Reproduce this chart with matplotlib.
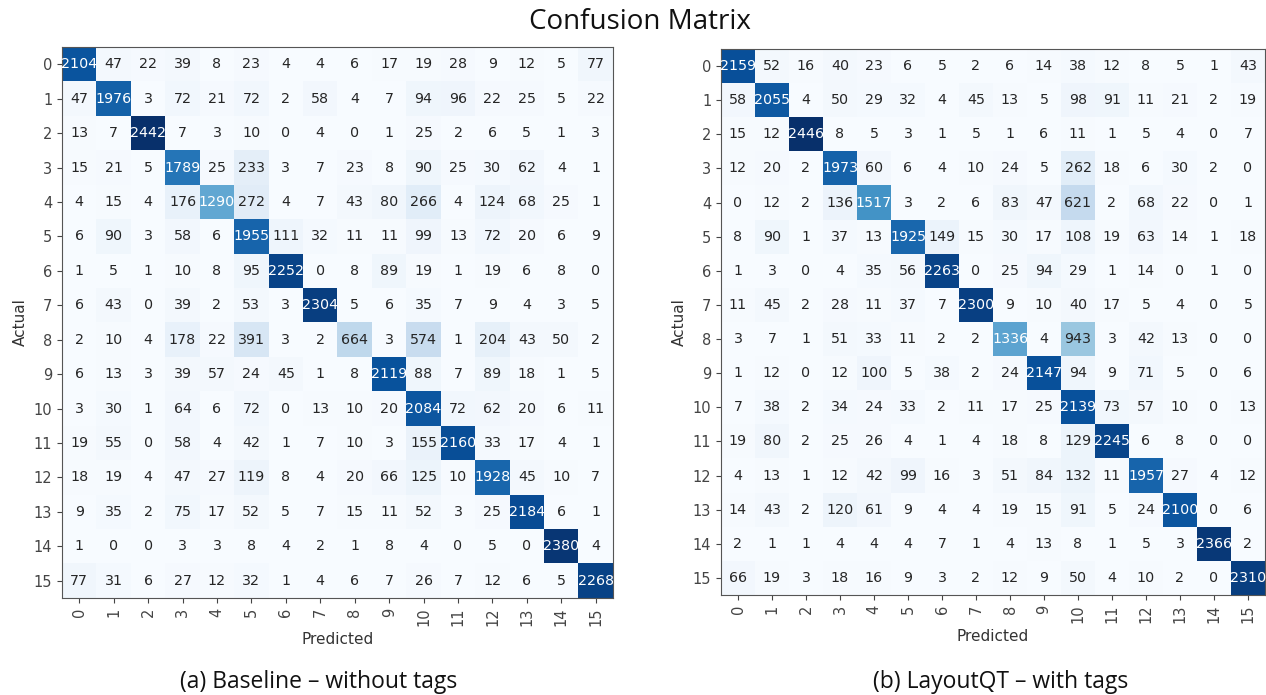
import numpy as np
import matplotlib.pyplot as plt

plt.rcParams['font.family'] = ['DejaVu Sans']

# ----------------------------
# 数据
# ----------------------------
labels = [str(i) for i in range(16)]

baseline = [
    [2104, 47, 22, 39, 8, 23, 4, 4, 6, 17, 19, 28, 9, 12, 5, 77],
    [47, 1976, 3, 72, 21, 72, 2, 58, 4, 7, 94, 96, 22, 25, 5, 22],
    [13, 7, 2442, 7, 3, 10, 0, 4, 0, 1, 25, 2, 6, 5, 1, 3],
    [15, 21, 5, 1789, 25, 233, 3, 7, 23, 8, 90, 25, 30, 62, 4, 1],
    [4, 15, 4, 176, 1290, 272, 4, 7, 43, 80, 266, 4, 124, 68, 25, 1],
    [6, 90, 3, 58, 6, 1955, 111, 32, 11, 11, 99, 13, 72, 20, 6, 9],
    [1, 5, 1, 10, 8, 95, 2252, 0, 8, 89, 19, 1, 19, 6, 8, 0],
    [6, 43, 0, 39, 2, 53, 3, 2304, 5, 6, 35, 7, 9, 4, 3, 5],
    [2, 10, 4, 178, 22, 391, 3, 2, 664, 3, 574, 1, 204, 43, 50, 2],
    [6, 13, 3, 39, 57, 24, 45, 1, 8, 2119, 88, 7, 89, 18, 1, 5],
    [3, 30, 1, 64, 6, 72, 0, 13, 10, 20, 2084, 72, 62, 20, 6, 11],
    [19, 55, 0, 58, 4, 42, 1, 7, 10, 3, 155, 2160, 33, 17, 4, 1],
    [18, 19, 4, 47, 27, 119, 8, 4, 20, 66, 125, 10, 1928, 45, 10, 7],
    [9, 35, 2, 75, 17, 52, 5, 7, 15, 11, 52, 3, 25, 2184, 6, 1],
    [1, 0, 0, 3, 3, 8, 4, 2, 1, 8, 4, 0, 5, 0, 2380, 4],
    [77, 31, 6, 27, 12, 32, 1, 4, 6, 7, 26, 7, 12, 6, 5, 2268],
]

layoutqt = [
    [2159, 52, 16, 40, 23, 6, 5, 2, 6, 14, 38, 12, 8, 5, 1, 43],
    [58, 2055, 4, 50, 29, 32, 4, 45, 13, 5, 98, 91, 11, 21, 2, 19],
    [15, 12, 2446, 8, 5, 3, 1, 5, 1, 6, 11, 1, 5, 4, 0, 7],
    [12, 20, 2, 1973, 60, 6, 4, 10, 24, 5, 262, 18, 6, 30, 2, 0],
    [0, 12, 2, 136, 1517, 3, 2, 6, 83, 47, 621, 2, 68, 22, 0, 1],
    [8, 90, 1, 37, 13, 1925, 149, 15, 30, 17, 108, 19, 63, 14, 1, 18],
    [1, 3, 0, 4, 35, 56, 2263, 0, 25, 94, 29, 1, 14, 0, 1, 0],
    [11, 45, 2, 28, 11, 37, 7, 2300, 9, 10, 40, 17, 5, 4, 0, 5],
    [3, 7, 1, 51, 33, 11, 2, 2, 1336, 4, 943, 3, 42, 13, 0, 0],
    [1, 12, 0, 12, 100, 5, 38, 2, 24, 2147, 94, 9, 71, 5, 0, 6],
    [7, 38, 2, 34, 24, 33, 2, 11, 17, 25, 2139, 73, 57, 10, 0, 13],
    [19, 80, 2, 25, 26, 4, 1, 4, 18, 8, 129, 2245, 6, 8, 0, 0],
    [4, 13, 1, 12, 42, 99, 16, 3, 51, 84, 132, 11, 1957, 27, 4, 12],
    [14, 43, 2, 120, 61, 9, 4, 4, 19, 15, 91, 5, 24, 2100, 0, 6],
    [2, 1, 1, 4, 4, 4, 7, 1, 4, 13, 8, 1, 5, 3, 2366, 2],
    [66, 19, 3, 18, 16, 9, 3, 2, 12, 9, 50, 4, 10, 2, 0, 2310],
]

captions = ["(a) Baseline \u2013 without tags", "(b) LayoutQT \u2013 with tags"]

W, H = 1266, 695
fig = plt.figure(figsize=(W / 100, H / 100), dpi=100)

# 两个子图的像素位置 (left, top, right, bottom)
boxes = [(62, 47, 613, 598), (721, 49, 1265, 595)]


def draw_cm(ax, cm):
    cm = np.array(cm)
    ax.imshow(cm, cmap="Blues", aspect="auto", vmin=0, vmax=cm.max())
    thresh = cm.max() / 2
    for i in range(cm.shape[0]):
        for j in range(cm.shape[1]):
            color = "white" if cm[i, j] > thresh else "#262626"
            ax.text(j, i, str(cm[i, j]), ha="center", va="center",
                    fontsize=10.3, color=color)
    ax.set_xticks(range(len(labels)))
    ax.set_yticks(range(len(labels)))
    ax.set_xticklabels(labels, rotation=90, fontsize=10.5, color="#222222")
    ax.set_yticklabels(labels, fontsize=10.5, color="#222222")
    ax.set_xlabel("Predicted", fontsize=11, color="#333333")
    ax.set_ylabel("Actual", fontsize=11, color="#333333")
    for s in ax.spines.values():
        s.set_color("#555555")
    ax.tick_params(colors="#444444")


for (l, t, r, b), cm in zip(boxes, [baseline, layoutqt]):
    ax = fig.add_axes([l / W, 1 - b / H, (r - l) / W, (b - t) / H])
    draw_cm(ax, cm)

fig.text(640 / W, 1 - 22 / H, "Confusion Matrix", ha="center", va="center",
         fontsize=20, family="Open Sans", color="#111111")
fig.text(180 / W, 1 - 682 / H, captions[0], ha="left", va="center",
         fontsize=16.5, family="Open Sans", color="#111111")
fig.text(873 / W, 1 - 682 / H, captions[1], ha="left", va="center",
         fontsize=16.5, family="Open Sans", color="#111111")

fig.savefig("out.png", dpi=100)
